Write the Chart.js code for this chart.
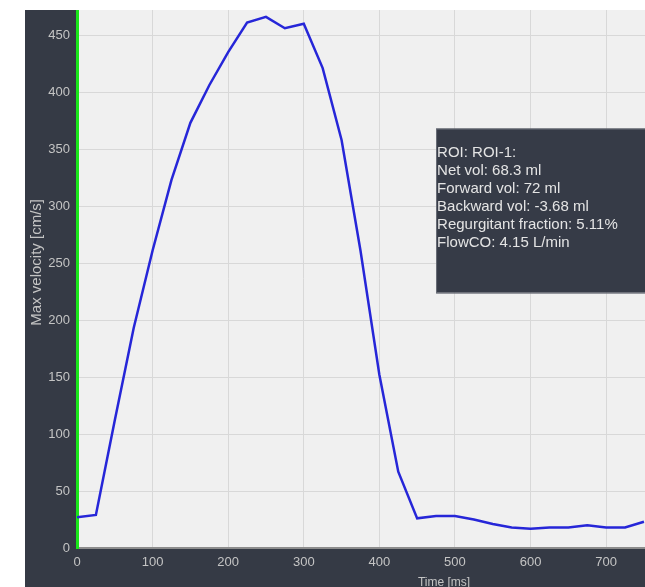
<!DOCTYPE html>
<html lang="en">
<head>
    <meta charset="UTF-8">
    <title>Max velocity</title>
    <script src="https://cdn.jsdelivr.net/npm/chart.js"></script>
    <style>
        html, body { margin: 0; padding: 0; background: #fff; overflow: hidden; width: 645px; height: 587px; }
        #panel { position: absolute; left: 25px; top: 10px; width: 800px; height: 600px; background: #353a45; }
        #flowChart { position: absolute; left: 0; top: 0; }
    </style>
</head>
<body>
    <div id="panel">
        <canvas id="flowChart" width="786" height="584"></canvas>
    </div>

    <script>
        // time points (ms) and max velocity (cm/s)
        const times = [0, 25, 50, 75, 100, 125, 150, 175, 200, 225, 250, 275, 300, 325, 350,
                       375, 400, 425, 450, 475, 500, 525, 550, 575, 600, 625, 650, 675, 700, 725, 750];
        const velocity = [27, 29, 112, 193, 261, 323, 373, 406, 435, 461, 466, 456, 460, 421, 358,
                          261, 152, 67, 26, 28, 28, 25, 21, 18, 17, 18, 18, 20, 18, 18, 23];

        const infoLines = [
            'ROI: ROI-1:',
            'Net vol: 68.3 ml',
            'Forward vol: 72 ml',
            'Backward vol: -3.68 ml',
            'Regurgitant fraction: 5.11%',
            'FlowCO: 4.15 L/min'
        ];

        const FONT = 'Liberation Sans, Arial, sans-serif';

        // light plot background
        const plotBackground = {
            id: 'plotBackground',
            beforeDraw(chart) {
                const { ctx, chartArea: a } = chart;
                ctx.save();
                ctx.fillStyle = '#f0f0f0';
                ctx.fillRect(a.left, a.top, a.right - a.left, a.bottom - a.top);
                ctx.restore();
            }
        };

        // dark results box on the right
        const infoBox = {
            id: 'infoBox',
            afterDraw(chart) {
                const { ctx } = chart;
                const x = chart.scales.x, y = chart.scales.y;
                const left = x.getPixelForValue(475);
                const top = y.getPixelForValue(368);
                const bottom = y.getPixelForValue(224);
                ctx.save();
                ctx.fillStyle = '#363b47';
                ctx.fillRect(left, top, 400, bottom - top);
                ctx.strokeStyle = '#6a6e78';
                ctx.lineWidth = 1;
                ctx.strokeRect(left + 0.5, top + 0.5, 400, bottom - top);
                ctx.fillStyle = '#e4e4e4';
                ctx.font = '15px ' + FONT;
                ctx.textBaseline = 'middle';
                infoLines.forEach((line, i) => {
                    ctx.fillText(line, left + 1, top + 24 + i * 18);
                });
                ctx.restore();
            }
        };

        function noPadding(scale) {
            scale.paddingTop = 0;
            scale.paddingBottom = 0;
            scale.paddingLeft = 0;
            scale.paddingRight = 0;
        }

        const ctx = document.getElementById('flowChart').getContext('2d');
        new Chart(ctx, {
            type: 'line',
            data: {
                labels: times,
                datasets: [{
                    label: 'Max velocity',
                    data: times.map((t, i) => ({ x: t, y: velocity[i] })),
                    borderColor: '#2626d8',
                    borderWidth: 2.5,
                    pointRadius: 0,
                    tension: 0,
                    fill: false
                }]
            },
            options: {
                responsive: false,
                animation: false,
                layout: { padding: 0 },
                plugins: {
                    legend: { display: false },
                    tooltip: { enabled: false }
                },
                scales: {
                    x: {
                        type: 'linear',
                        min: 0,
                        max: 971,
                        ticks: {
                            stepSize: 100,
                            color: '#c4c4c4',
                            font: { family: FONT, size: 13 },
                            padding: 7,
                            maxRotation: 0
                        },
                        afterBuildTicks(scale) {
                            scale.ticks = scale.ticks.filter(t => t.value % 100 === 0);
                        },
                        afterFit(scale) {
                            scale.height = 46;
                            noPadding(scale);
                        },
                        grid: { color: '#d8d8d8', lineWidth: 1, drawTicks: false },
                        border: { color: '#8c8c8c', width: 2 },
                        title: {
                            display: true,
                            text: 'Time [ms]',
                            color: '#c4c4c4',
                            font: { family: FONT, size: 12 },
                            padding: { top: 4, bottom: 4 }
                        }
                    },
                    y: {
                        min: 0,
                        max: 472,
                        ticks: {
                            stepSize: 50,
                            color: '#c4c4c4',
                            font: { family: FONT, size: 13 },
                            padding: 7
                        },
                        afterBuildTicks(scale) {
                            scale.ticks = scale.ticks.filter(t => t.value % 50 === 0);
                        },
                        afterFit(scale) {
                            scale.width = 52;
                            noPadding(scale);
                        },
                        grid: { color: '#d8d8d8', lineWidth: 1, drawTicks: false },
                        border: { color: '#19e619', width: 3 },
                        title: {
                            display: true,
                            // leading spaces nudge the label up like in the original
                            text: '        Max velocity [cm/s]',
                            color: '#c4c4c4',
                            font: { family: FONT, size: 15 },
                            padding: { top: 3, bottom: 0 }
                        }
                    }
                }
            },
            plugins: [plotBackground, infoBox]
        });
    </script>
</body>
</html>
